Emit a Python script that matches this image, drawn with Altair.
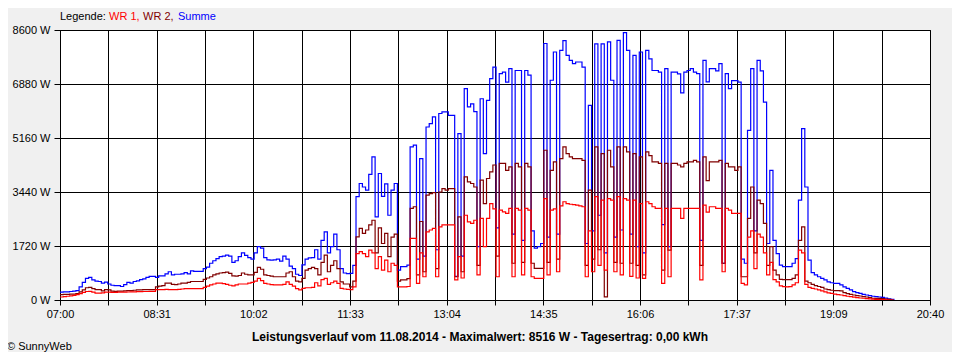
import altair as alt
import pandas as pd

# Sampling grid: one reading every 3 minutes from 07:00 (minute 0 = 07:00)
STEP_MIN = 3

summe = [
    250, 260, 260, 270, 280, 300, 420, 560, 690, 720,
    640, 600, 590, 540, 570, 510, 470, 460, 460, 430,
    490, 560, 540, 590, 610, 650, 670, 720, 750, 750,
    720, 770, 770, 830, 900, 800, 820, 820, 830, 870,
    830, 930, 910, 910, 910, 1000, 1050, 1170, 1250, 1320,
    1380, 1400, 1430, 1400, 1200, 1250, 1380, 1500, 1420, 1350,
    1300, 1500, 1700, 1650, 1350, 1280, 1270, 1280, 1300, 1240,
    1400, 1300, 1080, 1000, 820, 780, 1120, 1300, 1340, 1350,
    1600, 1300, 1900, 2170, 1500, 1700, 2100, 1600, 1000, 860,
    840, 850, 1100, 3290, 3710, 3600, 3500, 4000, 4560, 2650,
    4030, 3300, 3700, 2700, 3500, 3710, 950, 1060, 1060, 1110,
    4880, 4930, 1300, 4500, 1400, 5510, 5620, 5830, 1600, 5940,
    5990, 5990, 5880, 5880, 750, 5300, 1400, 6730, 6150, 6250,
    6000, 1700, 6410, 4660, 6360, 7050, 7420, 2300, 7210, 7260,
    6940, 7370, 2100, 7310, 7310, 1900, 7310, 7160, 2200, 1650,
    1700, 1800, 8170, 2000, 7000, 7900, 2100, 7950, 8260, 7790,
    7630, 7530, 7580, 7580, 7420, 1800, 6200, 2200, 8160, 2700,
    8160, 1500, 8220, 7000, 2000, 8270, 2230, 8516, 7950, 2100,
    7790, 1700, 7900, 1500, 7950, 7680, 7310, 7310, 7260, 2400,
    7370, 1700, 7260, 7260, 7200, 6600, 7260, 7310, 7370, 7260,
    7210, 1900, 7630, 6950, 7370, 7370, 7300, 7530, 1170, 7210,
    6730, 6990, 6990, 6940, 1300, 1170, 5400, 7370, 2200, 7630,
    7300, 6300, 1800, 4130, 1900, 1480, 1110, 1060, 1060, 1060,
    1170, 1320, 3180, 5460, 3600, 1270, 870, 800, 740, 690,
    640, 580, 550, 530, 530, 480, 420, 370, 320, 265,
    233, 210, 180, 160, 140, 120, 106, 95, 85, 60,
    40, 20, 0,
]

wr2 = [
    170, 180, 180, 190, 190, 200, 260, 320, 390, 400,
    360, 330, 330, 290, 330, 320, 280, 275, 280, 280,
    290, 300, 300, 310, 320, 320, 330, 330, 330, 330,
    420, 440, 460, 540, 540, 500, 490, 510, 540, 540,
    560, 590, 590, 590, 590, 660, 700, 740, 800, 830,
    860, 870, 890, 850, 770, 760, 780, 860, 820, 800,
    800, 880, 1040, 980, 800, 780, 760, 740, 740, 740,
    740, 860, 900, 740, 600, 580, 690, 950, 1000, 1040,
    1000, 800, 1200, 1430, 900, 1100, 1250, 1000, 580, 510,
    510, 420, 600, 2010, 2280, 2120, 2230, 2390, 2540, 1500,
    2300, 1800, 2120, 1380, 2000, 2100, 600, 640, 640, 680,
    2920, 2970, 800, 2500, 900, 3340, 3390, 3420, 1000, 3440,
    3550, 3500, 3550, 3550, 740, 2650, 900, 3920, 3760, 3710,
    3600, 1100, 3820, 3070, 3870, 4080, 4300, 1400, 4350, 4350,
    4130, 4240, 1170, 4350, 4240, 1200, 4350, 4240, 1170, 1010,
    1010, 1010, 4770, 1200, 4130, 4400, 1300, 4500, 4880, 4660,
    4560, 4500, 4500, 4500, 4450, 1100, 3500, 1300, 4880, 1600,
    4660, 100, 4770, 4240, 1200, 4880, 1170, 4880, 4720, 1170,
    4660, 1100, 4560, 800, 4720, 4600, 4400, 4400, 4350, 950,
    4350, 1590, 4350, 4350, 4300, 4240, 4350, 4400, 4400, 4450,
    4400, 1100, 4560, 3800, 4400, 4400, 4400, 4450, 1170, 4350,
    4240, 4240, 4130, 4240, 740, 740, 2600, 3600, 1500, 3180,
    3070, 2440, 1100, 1700, 950, 800, 660, 650, 650, 650,
    690, 800, 1900, 2330, 600, 550, 500, 460, 430, 400,
    350, 330, 310, 300, 300, 290, 235, 200, 180, 160,
    140, 127, 110, 95, 75, 55, 50, 50, 45, 30,
    20, 0, 0,
]

wr1 = [
    95, 110, 120, 130, 150, 170, 200, 240, 270, 275,
    250, 220, 220, 230, 250, 250, 245, 245, 250, 250,
    250, 255, 260, 260, 265, 265, 270, 270, 275, 275,
    330, 330, 330, 340, 330, 330, 330, 340, 350, 360,
    360, 360, 360, 360, 360, 400, 440, 480, 510, 540,
    540, 520, 500, 470, 450, 480, 510, 510, 510, 540,
    560, 600, 690, 620, 530, 510, 490, 480, 480, 480,
    500, 580, 500, 445, 360, 320, 370, 390, 390, 400,
    550, 450, 650, 690, 500, 550, 600, 530, 370, 350,
    340, 330, 420, 1480, 1540, 1480, 1380, 1590, 1500, 1000,
    1380, 950, 1270, 900, 1170, 1100, 420, 420, 420, 430,
    1960, 1960, 530, 1500, 740, 2170, 2230, 2280, 740, 2330,
    2390, 2390, 2390, 2390, 640, 1380, 700, 2700, 2490, 2440,
    2540, 800, 2600, 1700, 2600, 3070, 2900, 740, 2860, 2810,
    2760, 2920, 740, 2920, 2860, 800, 2920, 2860, 740, 690,
    690, 690, 3230, 800, 2860, 2900, 900, 3000, 3130, 3070,
    3050, 3040, 3020, 3000, 2970, 740, 2200, 900, 3290, 1100,
    3180, 950, 3230, 3180, 900, 3290, 800, 3230, 3180, 750,
    3180, 700, 3070, 690, 3130, 3070, 2970, 2920, 2920, 530,
    2920, 740, 2920, 2920, 2920, 2600, 2920, 2920, 2920, 2920,
    2920, 640, 3020, 2800, 2970, 2970, 2920, 2920, 900, 2920,
    2860, 2760, 2760, 2760, 530, 480, 2000, 2200, 1000, 2100,
    2000, 1500, 800, 1200, 650, 580, 450, 424, 420, 424,
    480, 550, 1590, 1500, 500, 400, 370, 350, 320, 290,
    260, 230, 210, 190, 170, 160, 140, 120, 105, 90,
    75, 64, 55, 45, 35, 25, 20, 15, 10, 5,
    0, 0, 0,
]

x_labels = ["07:00", "08:31", "10:02", "11:33", "13:04",
            "14:35", "16:06", "17:37", "19:09", "20:40"]
y_ticks = [0, 1720, 3440, 5160, 6880, 8600]
X_END = 820  # minutes from 07:00 to 20:40
N_GRID = 18

title_text = "Leistungsverlauf vom 11.08.2014 - Maximalwert: 8516 W - Tagesertrag: 0,00 kWh"
legend_parts = [("Legende:", "#000000"), ("WR 1,", "#FF0000"),
                ("WR 2,", "#800000"), ("Summe", "#0000FF")]

FONT = "Liberation Sans"


def frame(values):
    n = len(values)
    return pd.DataFrame({"t": [STEP_MIN * i for i in range(n)], "w": values})


grid_vals = [k * X_END / N_GRID for k in range(N_GRID + 1)]
all_labels = []
for k in range(N_GRID + 1):
    all_labels.append(x_labels[k // 2] if k % 2 == 0 else "")
label_expr = "[" + ",".join("'" + s + "'" for s in all_labels) + "][round(datum.value*%d/%d)]" % (N_GRID, X_END)

x_enc = alt.X(
    "t:Q",
    scale=alt.Scale(domain=[0, X_END], nice=False, zero=False),
    axis=alt.Axis(
        values=grid_vals, labelExpr=label_expr, title=None,
        grid=True, gridColor="black", gridWidth=1, gridOpacity=1,
        domainColor="black", domainWidth=1, tickColor="black", tickSize=5,
        labelFont=FONT, labelFontSize=11, labelColor="black",
        labelPadding=3, labelAngle=0, labelOverlap=False, labelFlush=False,
    ),
)
y_enc = alt.Y(
    "w:Q",
    scale=alt.Scale(domain=[0, 8600], nice=False),
    axis=alt.Axis(
        values=y_ticks, labelExpr="datum.value + ' W'", title=None,
        grid=True, gridColor="black", gridWidth=1, gridOpacity=1,
        domainColor="black", domainWidth=1, tickColor="black", tickSize=6,
        labelFont=FONT, labelFontSize=11, labelColor="black", labelPadding=4,
    ),
)


def series(values, color):
    return alt.Chart(frame(values)).mark_line(
        color=color, strokeWidth=1.2, interpolate="step-after", clip=True
    ).encode(x=x_enc, y=y_enc)


one = pd.DataFrame({"a": [0]})

texts = []
leg_x = [0, 49, 83, 118]
for (txt, col), lx in zip(legend_parts, leg_x):
    texts.append(
        alt.Chart(one).mark_text(
            text=txt, color=col, font=FONT, fontSize=11, align="left", baseline="middle"
        ).encode(x=alt.value(lx), y=alt.value(-13.5))
    )

texts.append(
    alt.Chart(one).mark_text(
        text=title_text, font=FONT, fontSize=12, fontWeight="bold",
        color="black", align="center", baseline="middle"
    ).encode(x=alt.value(420), y=alt.value(307))
)
texts.append(
    alt.Chart(one).mark_text(
        text="\u00a9 SunnyWeb", font=FONT, fontSize=11,
        color="black", align="left", baseline="middle"
    ).encode(x=alt.value(-53), y=alt.value(317))
)

chart = alt.layer(
    series(summe, "#0000FF"),
    series(wr2, "#800000"),
    series(wr1, "#FF0000"),
    *texts,
).properties(
    width=870, height=270,
    autosize=alt.AutoSizeParams(type="none"),
    padding={"left": 52, "top": 22, "right": 22, "bottom": 52},
    background="#F0F0F0",
).configure_view(
    fill="white", stroke="black", strokeWidth=1
)

chart.save("out.html", embed_options={"renderer": "svg", "actions": False})
